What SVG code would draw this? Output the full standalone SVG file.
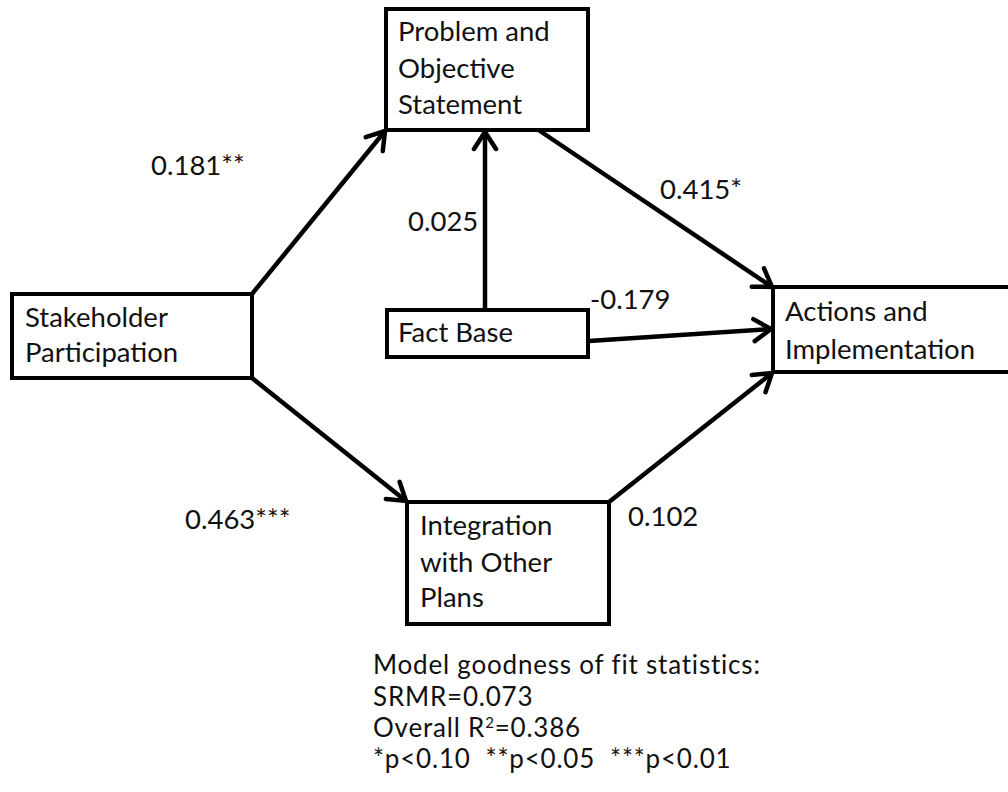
<svg xmlns="http://www.w3.org/2000/svg" width="1008" height="792" viewBox="0 0 1008 792">
<style>
.box{fill:#fff;stroke:#000;stroke-width:4}
.t{font-family:Lato,"Liberation Sans",sans-serif;font-size:27.5px;fill:#111}
.s{font-size:26px;letter-spacing:0.8px}
.c{stroke:#000;stroke-width:4.5;fill:none;stroke-linecap:round}
</style>
<defs>
<marker id="ah" markerUnits="userSpaceOnUse" markerWidth="40" markerHeight="40" viewBox="-20 -20 40 40" refX="0" refY="0" orient="auto">
<path d="M-17,-11 L0,0 L-17,11" fill="none" stroke="#000" stroke-width="4.5" stroke-linecap="round" stroke-linejoin="miter"/>
</marker>
</defs>
<rect width="1008" height="792" fill="#fff"/>
<g id="connectors">
<line class="c" x1="252" y1="294" x2="385" y2="131" marker-end="url(#ah)"/>
<line class="c" x1="252" y1="378" x2="406" y2="501" marker-end="url(#ah)"/>
<line class="c" x1="485" y1="309" x2="485" y2="132" marker-end="url(#ah)"/>
<line class="c" x1="540" y1="131" x2="772" y2="287" marker-end="url(#ah)"/>
<line class="c" x1="589" y1="341" x2="771" y2="329" marker-end="url(#ah)"/>
<line class="c" x1="609" y1="502" x2="772" y2="373" marker-end="url(#ah)"/>
</g>
<g id="problem">
<rect class="box" x="386" y="9" width="202" height="121"/>
<text class="t" x="398" y="41">Problem and</text>
<text class="t" x="398" y="78">Objective</text>
<text class="t" x="398" y="114">Statement</text>
</g>
<g id="stakeholder">
<rect class="box" x="12" y="294" width="240" height="84"/>
<text class="t" x="25" y="327">Stakeholder</text>
<text class="t" x="25" y="362">Participation</text>
</g>
<g id="factbase">
<rect class="box" x="387" y="310" width="201" height="47"/>
<text class="t" x="398" y="342">Fact Base</text>
</g>
<g id="actions">
<rect class="box" x="773" y="287" width="240" height="85"/>
<text class="t" x="785" y="321">Actions and</text>
<text class="t" x="785" y="359">Implementation</text>
</g>
<g id="integration">
<rect class="box" x="407" y="502" width="202" height="122"/>
<text class="t" x="420" y="535">Integration</text>
<text class="t" x="420" y="572">with Other</text>
<text class="t" x="420" y="607">Plans</text>
</g>
<g id="labels">
<text class="t" x="151" y="175">0.181**</text>
<text class="t" x="408" y="231">0.025</text>
<text class="t" x="660" y="199">0.415*</text>
<text class="t" x="590" y="309">-0.179</text>
<text class="t" x="185" y="529">0.463***</text>
<text class="t" x="628" y="526">0.102</text>
</g>
<g id="stats">
<text class="t s" x="373" y="674">Model goodness of fit statistics:</text>
<text class="t s" x="373" y="706">SRMR=0.073</text>
<text class="t s" x="373" y="737">Overall R<tspan font-size="15" dy="-9">2</tspan><tspan dy="9">=0.386</tspan></text>
<text class="t s" x="373" y="768" style="white-space:pre">*p&lt;0.10  **p&lt;0.05  ***p&lt;0.01</text>
</g>
</svg>
